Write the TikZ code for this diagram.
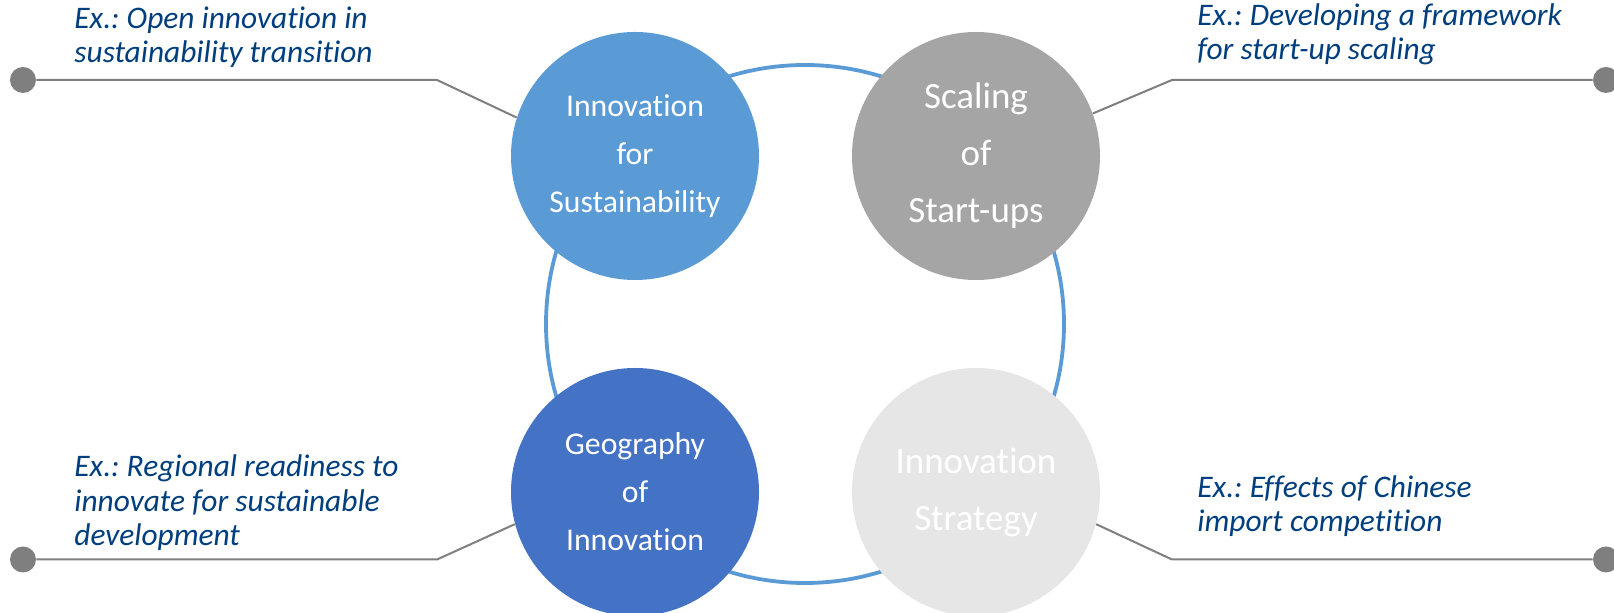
\documentclass[tikz,border=0pt]{standalone}
\usepackage{fontspec}
\setmainfont{Carlito}[Ligatures=NoCommon]
\frenchspacing
\definecolor{ringblue}{HTML}{5B9BD5}
\definecolor{geoblue}{HTML}{4472C4}
\definecolor{scalegray}{HTML}{A5A5A5}
\definecolor{stratgray}{HTML}{E7E6E6}
\definecolor{linegray}{HTML}{7F7F7F}
\definecolor{exblue}{RGB}{0,62,126}
\begin{document}
\begin{tikzpicture}[x=0.5pt,y=-0.5pt,
  bubble/.style={circle,minimum size=124pt,inner sep=0pt,text=white,align=center},
  smalltxt/.style={font=\fontsize{15.85}{24}\selectfont},
  bigtxt/.style={font=\fontsize{18.5}{28.5}\selectfont},
  dot/.style={circle,fill=linegray,minimum size=13pt,inner sep=0pt},
  conn/.style={draw=linegray,line width=1pt},
  example/.style={text=exblue,align=left,anchor=base west,inner sep=0pt,
    font=\itshape\fontsize{15.7}{17.3}\selectfont}]
\useasboundingbox (0,0) rectangle (1614,613);
\node[circle,draw=ringblue,line width=1.9pt,minimum size=259pt] (ring) at (805,324) {};
\node[bubble,smalltxt,fill=ringblue] (sust) at (635,156) {Innovation\\for\\Sustainability};
\node[bubble,bigtxt,fill=scalegray] (scal) at (976,156) {Scaling\\of\\Start-ups};
\node[bubble,smalltxt,fill=geoblue] (geo) at (635,492) {Geography\\of\\Innovation};
\node[bubble,bigtxt,fill=stratgray] (strat) at (976,492) {Innovation\\Strategy};
% connectors to the examples
\node[dot] (sustdot) at (23,80) {};
\node[dot] (scaldot) at (1606,80) {};
\node[dot] (geodot) at (23,559.5) {};
\node[dot] (stratdot) at (1606,559.5) {};
\coordinate (sustbend) at (437,80);
\coordinate (scalbend) at (1172,80);
\coordinate (geobend) at (437,559.5);
\coordinate (stratbend) at (1172,559.5);
\draw[conn] (sustdot) -- (sustbend) -- (sust.162);
\draw[conn] (scaldot) -- (scalbend) -- (scal.20);
\draw[conn] (geodot) -- (geobend) -- (geo.195);
\draw[conn] (stratdot) -- (stratbend) -- (strat.-15);
% examples, placed at the baseline of their last line
\node[example] (sustex) at (74,63) {Ex.: Open innovation in\\sustainability transition};
\node[example] (scalex) at (1197,60) {Ex.: Developing a framework\\for start-up scaling};
\node[example] (geoex) at (74,546) {Ex.: Regional readiness to\\innovate for sustainable\\development};
\node[example] (stratex) at (1197,532) {Ex.: Effects of Chinese\\import competition};
\end{tikzpicture}
\end{document}
